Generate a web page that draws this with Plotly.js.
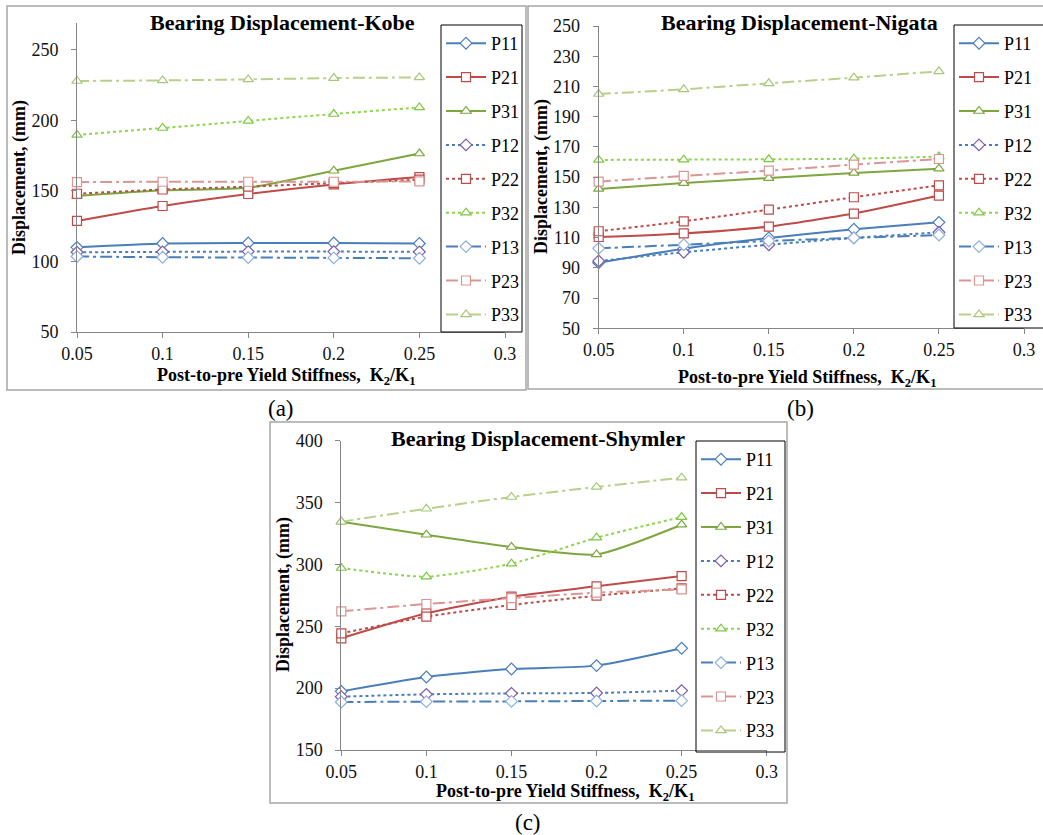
<!DOCTYPE html>
<html>
<head>
<meta charset="utf-8">
<script src="https://cdn.plot.ly/plotly-3.0.1.min.js"></script>
<style>html,body{margin:0;padding:0;background:#fff;}#chart{width:1043px;height:835px;}</style>
</head>
<body>
<div id="chart"></div>
<script>
// ---- data ----
const stiffness = [0.05, 0.1, 0.15, 0.2, 0.25];
const xTickVals = [0.05, 0.1, 0.15, 0.2, 0.25, 0.3];
const xTickText = ["0.05", "0.1", "0.15", "0.2", "0.25", "0.3"];
const seriesNames = ["P11", "P21", "P31", "P12", "P22", "P32", "P13", "P23", "P33"];

const kobeP11 = [110.0, 112.7, 113.1, 113.1, 112.7];
const kobeP21 = [128.7, 139.3, 147.8, 154.6, 159.8];
const kobeP31 = [146.3, 150.4, 152.2, 164.3, 176.5];
const kobeP12 = [106.5, 106.8, 107.0, 107.0, 106.8];
const kobeP22 = [148.0, 151.0, 153.0, 155.5, 158.0];
const kobeP32 = [189.7, 194.6, 199.6, 204.5, 209.2];
const kobeP13 = [103.5, 103.0, 102.8, 102.5, 102.3];
const kobeP23 = [156.2, 156.5, 156.5, 156.5, 156.7];
const kobeP33 = [227.9, 228.3, 229.0, 230.0, 230.4];

const nigataP11 = [93.4, 102.7, 109.8, 115.5, 120.1];
const nigataP21 = [110.4, 112.8, 117.3, 125.9, 137.8];
const nigataP31 = [142.2, 146.1, 149.4, 152.8, 155.6];
const nigataP12 = [94.5, 100.3, 105.3, 109.8, 113.5];
const nigataP22 = [114.2, 120.8, 128.5, 136.7, 144.6];
const nigataP32 = [161.4, 161.6, 161.8, 162.2, 163.6];
const nigataP13 = [102.9, 105.3, 107.8, 109.8, 111.7];
const nigataP23 = [147.0, 150.8, 154.3, 158.3, 162.0];
const nigataP33 = [205.0, 208.1, 212.1, 215.8, 220.0];

const shymlerP11 = [197.4, 209.0, 215.5, 218.2, 232.2];
const shymlerP21 = [240.3, 260.5, 273.9, 282.3, 290.6];
const shymlerP31 = [334.5, 324.0, 314.1, 308.1, 332.1];
const shymlerP12 = [193.1, 195.0, 195.8, 196.1, 198.0];
const shymlerP22 = [244.3, 257.8, 267.2, 274.7, 280.7];
const shymlerP32 = [297.1, 290.1, 300.6, 321.6, 338.3];
const shymlerP13 = [188.8, 189.1, 189.3, 189.6, 189.9];
const shymlerP23 = [262.1, 268.0, 272.8, 277.2, 279.8];
const shymlerP33 = [334.5, 345.0, 354.5, 362.6, 370.1];

const kobe = [kobeP11, kobeP21, kobeP31, kobeP12, kobeP22, kobeP32, kobeP13, kobeP23, kobeP33];
const nigata = [nigataP11, nigataP21, nigataP31, nigataP12, nigataP22, nigataP32, nigataP13, nigataP23, nigataP33];
const shymler = [shymlerP11, shymlerP21, shymlerP31, shymlerP12, shymlerP22, shymlerP32, shymlerP13, shymlerP23, shymlerP33];

// ---- styles ----
const DD = "12px,4px,3px,4px";
const styles = [
  {lc: "#4A7EBB", dash: "solid", sym: "diamond",      mc: "#4A7EBB"},
  {lc: "#BE4B48", dash: "solid", sym: "square",       mc: "#BE4B48"},
  {lc: "#7EA53E", dash: "solid", sym: "triangle-up",  mc: "#7EA53E"},
  {lc: "#4A7EBB", dash: "dot",   sym: "diamond",      mc: "#7B5CA6"},
  {lc: "#BE4B48", dash: "dot",   sym: "square",       mc: "#BE4B48"},
  {lc: "#8ED54E", dash: "dot",   sym: "triangle-up",  mc: "#7CC840"},
  {lc: "#4A7EBB", dash: DD,      sym: "diamond",      mc: "#8EB0DC"},
  {lc: "#D99694", dash: DD,      sym: "square",       mc: "#D99694"},
  {lc: "#B9D08C", dash: DD,      sym: "triangle-up",  mc: "#A9C77A"}
];
const msize = {"diamond": 9, "square": 9, "triangle-up": 9};

const W = 1043, H = 835;
const px = v => v / W;
const py = v => 1 - v / H;

const panels = [
  {data: kobe,    xa: "x",  ya: "y",  leg: "legend"},
  {data: nigata,  xa: "x2", ya: "y2", leg: "legend2"},
  {data: shymler, xa: "x3", ya: "y3", leg: "legend3"}
];

const traces = [];
panels.forEach((p, pi) => {
  p.data.forEach((vals, i) => {
    const s = styles[i];
    traces.push({
      x: stiffness, y: vals, xaxis: p.xa, yaxis: p.ya,
      name: seriesNames[i], legend: p.leg, legendgroup: "g" + pi + "_" + i,
      mode: "lines+markers", type: "scatter", cliponaxis: false,
      line: {color: s.lc, width: 2, dash: s.dash, shape: "spline", smoothing: 0.6},
      marker: {symbol: s.sym, size: msize[s.sym], color: "#FFFFFF", line: {color: s.mc, width: 1.2}}
    });
  });
});

const serif = "Liberation Serif";
const axisColor = "#868686";
function xAxis(domain, anchor) {
  return {domain: domain, anchor: anchor, range: [0.05, 0.3], tickvals: xTickVals, ticktext: xTickText,
    showgrid: false, zeroline: false, showline: true, linecolor: axisColor, linewidth: 1,
    ticks: "outside", ticklen: 5, tickcolor: axisColor, tickfont: {family: serif, size: 18, color: "#111"},
    fixedrange: true};
}
function yAxis(domain, anchor, range, dtick) {
  return {domain: domain, anchor: anchor, range: range, tick0: 50, dtick: dtick,
    showgrid: false, zeroline: false, showline: true, linecolor: axisColor, linewidth: 1,
    ticks: "outside", ticklen: 5, tickcolor: axisColor, tickfont: {family: serif, size: 18, color: "#111"},
    ticklabelstandoff: 9, fixedrange: true};
}

const legendBase = (x, y) => ({x: px(x), y: py(y), xref: "paper", yref: "paper", xanchor: "left", yanchor: "top",
  bgcolor: "rgba(0,0,0,0)", borderwidth: 0, font: {family: serif, size: 18, color: "#000"},
  itemwidth: 40, traceorder: "grouped", tracegroupgap: 7.5});

const rect = (x0, y0, x1, y1, color, w) => ({type: "rect", xref: "paper", yref: "paper",
  x0: px(x0), x1: px(x1), y0: py(y1), y1: py(y0), line: {color: color, width: w}, fillcolor: "rgba(0,0,0,0)", layer: "above"});

const ann = (text, x, y, size, bold, angle) => ({text: bold ? "<b>" + text + "</b>" : text,
  x: px(x), y: py(y), xref: "paper", yref: "paper", xanchor: "center", yanchor: "middle", showarrow: false,
  textangle: angle || 0, font: {family: serif, size: size, color: "#000"}});

const xTitle = "Post-to-pre Yield Stiffness,&nbsp; K<sub>2</sub>/K<sub>1</sub>";

const layout = {
  width: W, height: H, margin: {l: 0, r: 0, t: 0, b: 0},
  font: {family: serif, color: "#111"},
  paper_bgcolor: "#FFFFFF", plot_bgcolor: "rgba(0,0,0,0)", showlegend: true,
  xaxis:  xAxis([px(77), px(505)], "y"),
  yaxis:  yAxis([py(332), py(23)], "x", [50, 269], 50),
  xaxis2: xAxis([px(598.7), px(1024)], "y2"),
  yaxis2: yAxis([py(328.3), py(26)], "x2", [50, 250], 20),
  xaxis3: xAxis([px(341.3), px(766.7)], "y3"),
  yaxis3: yAxis([py(750), py(440.7)], "x3", [150, 400], 50),
  legend:  legendBase(441, 25),
  legend2: legendBase(954, 25),
  legend3: legendBase(696, 441),
  shapes: [
    rect(7, 6, 526, 390, "#A6A6A6", 1.5),
    rect(528, 6, 1046, 389, "#A6A6A6", 1.5),
    rect(270, 422, 787, 803, "#A6A6A6", 1.5),
    rect(441, 25, 522, 332, "#000", 1),
    rect(954, 25, 1046, 328, "#000", 1),
    rect(696, 441, 785, 752, "#000", 1)
  ],
  annotations: [
    ann("Bearing Displacement-Kobe", 282, 23, 22, true),
    ann("Bearing Displacement-Nigata", 799, 23, 22, true),
    ann("Bearing Displacement-Shymler", 538, 438, 22, true),
    ann("Displacement, (mm)", 20, 178, 18, true, -90),
    ann("Displacement, (mm)", 541, 177, 18, true, -90),
    ann("Displacement, (mm)", 283, 595, 18, true, -90),
    ann(xTitle, 286, 377, 18, true),
    ann(xTitle, 807, 378, 18, true),
    ann(xTitle, 565, 792, 18, true),
    ann("(a)", 281, 408, 23, false),
    ann("(b)", 800, 408, 23, false),
    ann("(c)", 528, 822, 23, false)
  ]
};

Plotly.newPlot("chart", traces, layout, {staticPlot: true, displayModeBar: false});
</script>
</body>
</html>
